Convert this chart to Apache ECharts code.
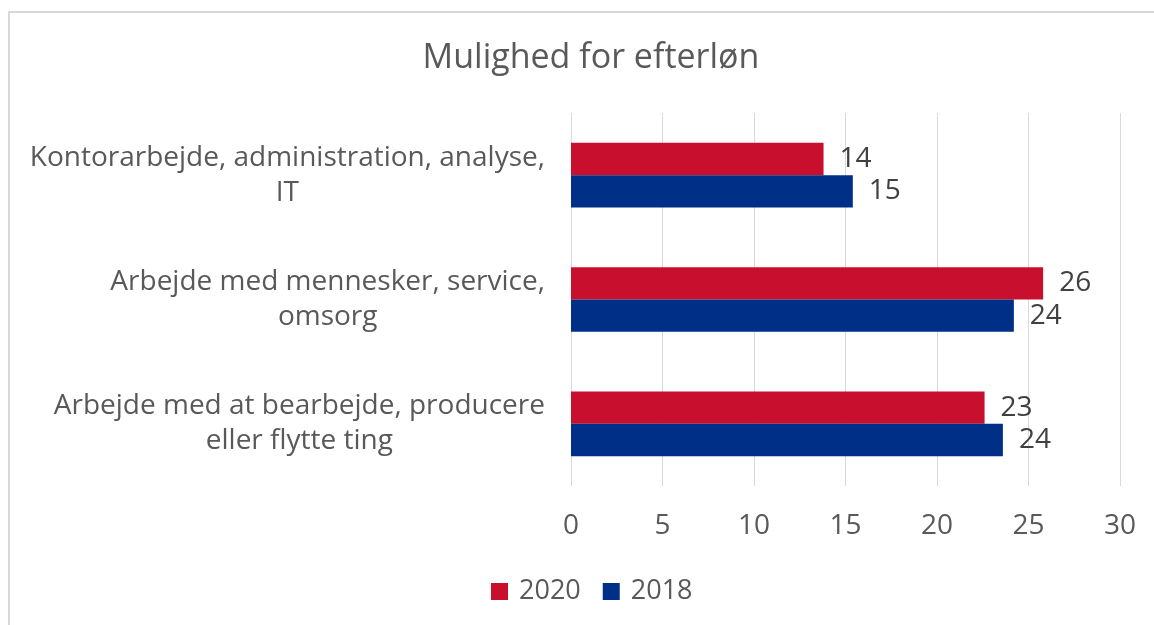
<!DOCTYPE html>
<html>
<head>
<meta charset="utf-8">
<script src="https://cdn.jsdelivr.net/npm/echarts@6/dist/echarts.min.js"></script>
<style>
  html, body { margin: 0; padding: 0; background: #fff; overflow: hidden; }
  #frame { position: absolute; left: 8px; top: 11px; width: 1300px; height: 800px;
           border: 2px solid #d9d9d9; box-sizing: border-box; }
  #chart { position: absolute; left: 0; top: 0; width: 1154px; height: 625px; }
</style>
</head>
<body>
<div id="frame"></div>
<div id="chart"></div>
<script>
  // categories top to bottom
  var categories = [
    'Kontorarbejde, administration, analyse,\nIT',
    'Arbejde med mennesker, service,\nomsorg',
    'Arbejde med at bearbejde, producere\neller flytte ting'
  ];
  var values2020 = [13.8, 25.8, 22.6];
  var values2018 = [15.4, 24.2, 23.6];
  var xTicks = { min: 0, max: 30, interval: 5 };

  var font = '"Open Sans", "DejaVu Sans", sans-serif';
  var myChart = echarts.init(document.getElementById('chart'));

  var labelStyle = {
    show: true,
    position: 'right',
    distance: 16,
    color: '#404040',
    fontSize: 28,
    fontFamily: font,
    formatter: function (p) { return Math.round(p.value); }
  };

  var option = {
    backgroundColor: 'transparent',
    animation: false,
    textStyle: { fontFamily: font },
    title: {
      text: 'Mulighed for efterløn',
      left: 586,
      textAlign: 'center',
      top: 36,
      textStyle: { color: '#595959', fontSize: 34, fontWeight: 'normal', fontFamily: font }
    },
    legend: {
      data: ['2020', '2018'],
      bottom: 15,
      left: 486,
      itemWidth: 17,
      itemHeight: 17,
      itemGap: 22,
      icon: 'rect',
      textStyle: { color: '#595959', fontSize: 27, fontFamily: font, padding: [0, 0, 0, 6] }
    },
    grid: { left: 571, right: 34, top: 113, bottom: 139 },
    xAxis: {
      type: 'value',
      min: xTicks.min,
      max: xTicks.max,
      interval: xTicks.interval,
      axisLine: { show: false },
      axisTick: { show: false },
      splitLine: { lineStyle: { color: '#d9d9d9', width: 1 } },
      axisLabel: { color: '#595959', fontSize: 28, margin: 26, fontFamily: font }
    },
    yAxis: {
      type: 'category',
      inverse: true,
      data: categories,
      axisLine: { show: false },
      axisTick: { show: false },
      axisLabel: {
        color: '#595959',
        fontSize: 28,
        fontFamily: font,
        margin: 26,
        align: 'right',
        lineHeight: 35,
        formatter: function (v) {
          return v.split('\n').map(function (l) { return '{c|' + l + '}'; }).join('\n');
        },
        rich: {
          c: { align: 'center', color: '#595959', fontSize: 28, fontFamily: font, lineHeight: 35 }
        }
      }
    },
    series: [
      {
        name: '2020',
        type: 'bar',
        data: values2020,
        barGap: '0%',
        barCategoryGap: '48%',
        itemStyle: { color: '#C8102E' },
        label: labelStyle
      },
      {
        name: '2018',
        type: 'bar',
        data: values2018,
        barGap: '0%',
        barCategoryGap: '48%',
        itemStyle: { color: '#002F87' },
        label: labelStyle
      }
    ]
  };
  myChart.setOption(option);
</script>
</body>
</html>
